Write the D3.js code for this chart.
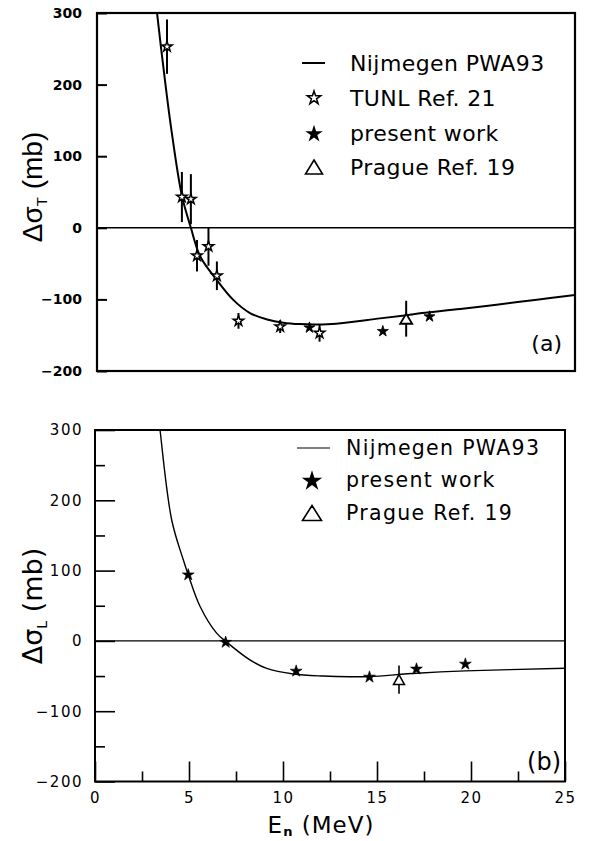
<!DOCTYPE html>
<html>
<head>
<meta charset="utf-8">
<script src="https://cdn.jsdelivr.net/npm/d3@7"></script>
<style>
  html, body { margin: 0; padding: 0; background: #fff; }
  svg { display: block; }
</style>
</head>
<body>
<svg id="chart" width="591" height="841"></svg>
<script>
// ---- data ----
const yTickValues = [-200, -100, 0, 100, 200, 300];
const yMinorValues = [-150, -50, 50, 150, 250];
const xTickValues = [0, 5, 10, 15, 20, 25];
const xMinorValues = [2.5, 7.5, 12.5, 17.5, 22.5];

// panel (a): delta sigma_T
const pwaT_E = [2.9, 3.14, 3.5, 3.88, 4.44, 4.91, 5.4, 6.27, 7.14, 8.0, 8.9, 9.75, 10.6, 11.5, 12.5, 14.8, 16.2, 17.0, 19.0, 21.0, 23.0, 25.0];
const pwaT = [360, 300, 218, 139, 45, 0, -40, -73, -101, -119, -128, -132.5, -134.5, -135, -134, -126.5, -122, -119, -113.5, -107, -100.5, -94];
const tunlE = [3.66, 4.44, 4.91, 5.23, 5.83, 6.27, 7.40, 9.58, 11.64];
const tunlT = [253, 43, 40, -39, -26, -67, -130, -138, -147];
const tunlErr = [38, 35, 35, 22, 27, 20, 11, 9, 12];
const presentT_E = [11.11, 14.95, 17.39];
const presentT = [-139.5, -144.5, -124];
const pragueT_E = [16.17];
const pragueT = [-127];
const pragueT_Err = [25];

// panel (b): delta sigma_L
const pwaL_E = [3.2, 3.46, 4.08, 4.70, 4.96, 5.59, 6.47, 6.97, 8.24, 9.13, 10.55, 12.14, 13.56, 14.6, 17.1, 19.7, 25.0];
const pwaL = [368, 300, 172, 115, 94, 49, 11, -1, -27, -39, -47, -50, -51, -50.7, -46, -42.7, -39];
const presentL_E = [4.96, 6.95, 10.7, 14.6, 17.1, 19.7];
const presentL = [94, -2, -43, -51.5, -40, -33];
const pragueL_E = [16.17];
const pragueL = [-55];
const pragueL_Err = [20];

const legendA = ["Nijmegen PWA93", "TUNL Ref. 21", "present work", "Prague Ref. 19"];
const legendB = ["Nijmegen PWA93", "present work", "Prague Ref. 19"];

// ---- drawing ----
const svg = d3.select("#chart");
const HERSHEY = "'DejaVu Sans', sans-serif";
const fmt = d3.format("d");

function triPath(w, h) {
  return `M0,${-h / 2}L${w / 2},${h / 2}L${-w / 2},${h / 2}Z`;
}

// ---------- panel (a) ----------
const xA = d3.scaleLinear().domain([0, 25]).range([97, 575]);
const yA = d3.scaleLinear().domain([-200, 300]).range([371, 13]);
const gA = svg.append("g");

svg.append("defs").append("clipPath").attr("id", "clipA")
  .append("rect").attr("x", 97).attr("y", 13).attr("width", 478).attr("height", 358);

// zero line
gA.append("line")
  .attr("x1", xA(0)).attr("x2", xA(25)).attr("y1", yA(0)).attr("y2", yA(0))
  .attr("stroke", "#000").attr("stroke-width", 1.6);

// left axis
const axisA = gA.append("g").attr("transform", `translate(${xA(0)},0)`)
  .call(d3.axisLeft(yA).tickValues(yTickValues).tickSize(-10).tickPadding(15).tickFormat(fmt));
axisA.select(".domain").remove();
axisA.selectAll(".tick line").attr("stroke-width", 2);
axisA.selectAll(".tick text")
  .attr("font-family", HERSHEY).attr("font-weight", "bold").attr("font-size", 14).attr("fill", "#000");

// curve
const lineA = d3.line().x((d, i) => xA(pwaT_E[i])).y(d => yA(d)).curve(d3.curveCatmullRom.alpha(0.5));
gA.append("path").datum(pwaT).attr("clip-path", "url(#clipA)")
  .attr("d", lineA).attr("fill", "none").attr("stroke", "#000").attr("stroke-width", 2);

// TUNL error bars + open stars
gA.selectAll(".errT").data(tunlT).join("line")
  .attr("x1", (d, i) => xA(tunlE[i])).attr("x2", (d, i) => xA(tunlE[i]))
  .attr("y1", (d, i) => yA(d + tunlErr[i])).attr("y2", (d, i) => yA(d - tunlErr[i]))
  .attr("stroke", "#000").attr("stroke-width", 2);
gA.selectAll(".tunl").data(tunlT).join("path")
  .attr("transform", (d, i) => `translate(${xA(tunlE[i])},${yA(d)})`)
  .attr("d", d3.symbol(d3.symbolStar, 34)())
  .attr("fill", "#fff").attr("stroke", "#000").attr("stroke-width", 1.5);

// present work
gA.selectAll(".presA").data(presentT).join("path")
  .attr("transform", (d, i) => `translate(${xA(presentT_E[i])},${yA(d)})`)
  .attr("d", d3.symbol(d3.symbolStar, 38)())
  .attr("fill", "#000").attr("stroke", "#000").attr("stroke-width", 0.8);

// Prague
gA.selectAll(".pragErrA").data(pragueT).join("line")
  .attr("x1", (d, i) => xA(pragueT_E[i])).attr("x2", (d, i) => xA(pragueT_E[i]))
  .attr("y1", (d, i) => yA(d + pragueT_Err[i])).attr("y2", (d, i) => yA(d - pragueT_Err[i]))
  .attr("stroke", "#000").attr("stroke-width", 2);
gA.selectAll(".pragA").data(pragueT).join("path")
  .attr("transform", (d, i) => `translate(${xA(pragueT_E[i])},${yA(d)})`)
  .attr("d", triPath(12, 10))
  .attr("fill", "#fff").attr("stroke", "#000").attr("stroke-width", 1.8);

// frame
gA.append("rect").attr("x", 97).attr("y", 13).attr("width", 478).attr("height", 358)
  .attr("fill", "none").attr("stroke", "#000").attr("stroke-width", 2.2);

// y title
const tA = gA.append("text")
  .attr("transform", "translate(42,187) rotate(-90)")
  .attr("text-anchor", "middle").attr("font-family", "'Liberation Sans', Arial, sans-serif")
  .attr("font-size", 28).attr("fill", "#000");
tA.append("tspan").text("Δσ");
tA.append("tspan").attr("font-size", 15).attr("dy", 5).text("T");
tA.append("tspan").attr("dy", -5).text(" (mb)");

// legend (a)
const legARows = [63, 98, 133, 167];
const lgA = gA.append("g");
lgA.append("line").attr("x1", 302).attr("x2", 325).attr("y1", legARows[0]).attr("y2", legARows[0])
  .attr("stroke", "#000").attr("stroke-width", 2);
lgA.append("path").attr("transform", `translate(314,${legARows[1]})`)
  .attr("d", d3.symbol(d3.symbolStar, 55)()).attr("fill", "#fff").attr("stroke", "#000").attr("stroke-width", 1.5);
lgA.append("path").attr("transform", `translate(314,${legARows[2] + 1})`)
  .attr("d", d3.symbol(d3.symbolStar, 95)()).attr("fill", "#000");
lgA.append("path").attr("transform", `translate(314,${legARows[3]})`)
  .attr("d", triPath(17, 14)).attr("fill", "none").attr("stroke", "#000").attr("stroke-width", 1.6);
lgA.selectAll(".lt").data(legendA).join("text")
  .attr("x", 350).attr("y", (d, i) => legARows[i]).attr("dy", "0.36em")
  .attr("font-family", HERSHEY).attr("font-size", 22).attr("letter-spacing", 0.4)
  .attr("fill", "#000").text(d => d);

gA.append("text").attr("x", 562).attr("y", 343).attr("dy", "0.36em")
  .attr("text-anchor", "end").attr("font-family", HERSHEY).attr("font-size", 22)
  .attr("fill", "#000").text("(a)");

// ---------- panel (b) ----------
const xB = d3.scaleLinear().domain([0, 25]).range([95, 565]);
const yB = d3.scaleLinear().domain([-200, 300]).range([781.5, 430]);
const gB = svg.append("g");

svg.select("defs").append("clipPath").attr("id", "clipB")
  .append("rect").attr("x", 95).attr("y", 430).attr("width", 470).attr("height", 351.5);

gB.append("line")
  .attr("x1", xB(0)).attr("x2", xB(25)).attr("y1", yB(0)).attr("y2", yB(0))
  .attr("stroke", "#000").attr("stroke-width", 1.2);

// y axis: major + minor
const axisBy = gB.append("g").attr("transform", `translate(${xB(0)},0)`)
  .call(d3.axisLeft(yB).tickValues(yTickValues).tickSize(-20).tickPadding(12).tickFormat(fmt));
axisBy.select(".domain").remove();
const axisBym = gB.append("g").attr("transform", `translate(${xB(0)},0)`)
  .call(d3.axisLeft(yB).tickValues(yMinorValues).tickSize(-10).tickFormat(""));
axisBym.select(".domain").remove();

// x axis: major + minor
const axisBx = gB.append("g").attr("transform", `translate(0,${yB(-200)})`)
  .call(d3.axisBottom(xB).tickValues(xTickValues).tickSize(-20).tickPadding(11).tickFormat(fmt));
axisBx.select(".domain").remove();
const axisBxm = gB.append("g").attr("transform", `translate(0,${yB(-200)})`)
  .call(d3.axisBottom(xB).tickValues(xMinorValues).tickSize(-10).tickFormat(""));
axisBxm.select(".domain").remove();

gB.selectAll(".tick line").attr("stroke-width", 1.6);
gB.selectAll(".tick text")
  .attr("font-family", HERSHEY).attr("font-size", 15).attr("letter-spacing", 1.5).attr("fill", "#000");

// curve
const lineB = d3.line().x((d, i) => xB(pwaL_E[i])).y(d => yB(d)).curve(d3.curveCatmullRom.alpha(0.5));
gB.append("path").datum(pwaL).attr("clip-path", "url(#clipB)")
  .attr("d", lineB).attr("fill", "none").attr("stroke", "#000").attr("stroke-width", 1.4);

// Prague
gB.selectAll(".pragErrB").data(pragueL).join("line")
  .attr("x1", (d, i) => xB(pragueL_E[i])).attr("x2", (d, i) => xB(pragueL_E[i]))
  .attr("y1", (d, i) => yB(d + pragueL_Err[i])).attr("y2", (d, i) => yB(d - pragueL_Err[i]))
  .attr("stroke", "#000").attr("stroke-width", 1.6);
gB.selectAll(".pragB").data(pragueL).join("path")
  .attr("transform", (d, i) => `translate(${xB(pragueL_E[i])},${yB(d)})`)
  .attr("d", triPath(11, 10))
  .attr("fill", "#fff").attr("stroke", "#000").attr("stroke-width", 1.5);

// present work
gB.selectAll(".presB").data(presentL).join("path")
  .attr("transform", (d, i) => `translate(${xB(presentL_E[i])},${yB(d)})`)
  .attr("d", d3.symbol(d3.symbolStar, 44)())
  .attr("fill", "#000").attr("stroke", "#000").attr("stroke-width", 0.6);

// frame
gB.append("rect").attr("x", 95).attr("y", 430).attr("width", 470).attr("height", 351.5)
  .attr("fill", "none").attr("stroke", "#000").attr("stroke-width", 2);

// y title
const tB = gB.append("text")
  .attr("transform", "translate(42,606) rotate(-90)")
  .attr("text-anchor", "middle").attr("font-family", HERSHEY)
  .attr("font-size", 27).attr("fill", "#000");
tB.append("tspan").text("Δσ");
tB.append("tspan").attr("font-size", 14).attr("dy", 5).text("L");
tB.append("tspan").attr("dy", -5).text(" (mb)");

// x title
const tX = gB.append("text")
  .attr("x", 321).attr("y", 833)
  .attr("text-anchor", "middle").attr("font-family", HERSHEY)
  .attr("font-size", 23).attr("letter-spacing", 1).attr("fill", "#000");
tX.append("tspan").text("E");
tX.append("tspan").attr("font-size", 13).attr("dy", 3).attr("font-weight", "bold").text("n");
tX.append("tspan").attr("dy", -3).text(" (MeV)");

// legend (b)
const legBRows = [448, 480, 513];
const lgB = gB.append("g");
lgB.append("line").attr("x1", 297).attr("x2", 330).attr("y1", legBRows[0]).attr("y2", legBRows[0])
  .attr("stroke", "#000").attr("stroke-width", 1.2);
lgB.append("path").attr("transform", `translate(312,${legBRows[1] + 1})`)
  .attr("d", d3.symbol(d3.symbolStar, 130)()).attr("fill", "#000");
lgB.append("path").attr("transform", `translate(312,${legBRows[2]})`)
  .attr("d", triPath(19, 15)).attr("fill", "none").attr("stroke", "#000").attr("stroke-width", 1.6);
lgB.selectAll(".lt").data(legendB).join("text")
  .attr("x", 346).attr("y", (d, i) => legBRows[i]).attr("dy", "0.36em")
  .attr("font-family", HERSHEY).attr("font-size", 20.5).attr("letter-spacing", 1.3)
  .attr("fill", "#000").text(d => d);

gB.append("text").attr("x", 561).attr("y", 761).attr("dy", "0.36em")
  .attr("text-anchor", "end").attr("font-family", HERSHEY).attr("font-size", 24)
  .attr("fill", "#000").text("(b)");
</script>
</body>
</html>
